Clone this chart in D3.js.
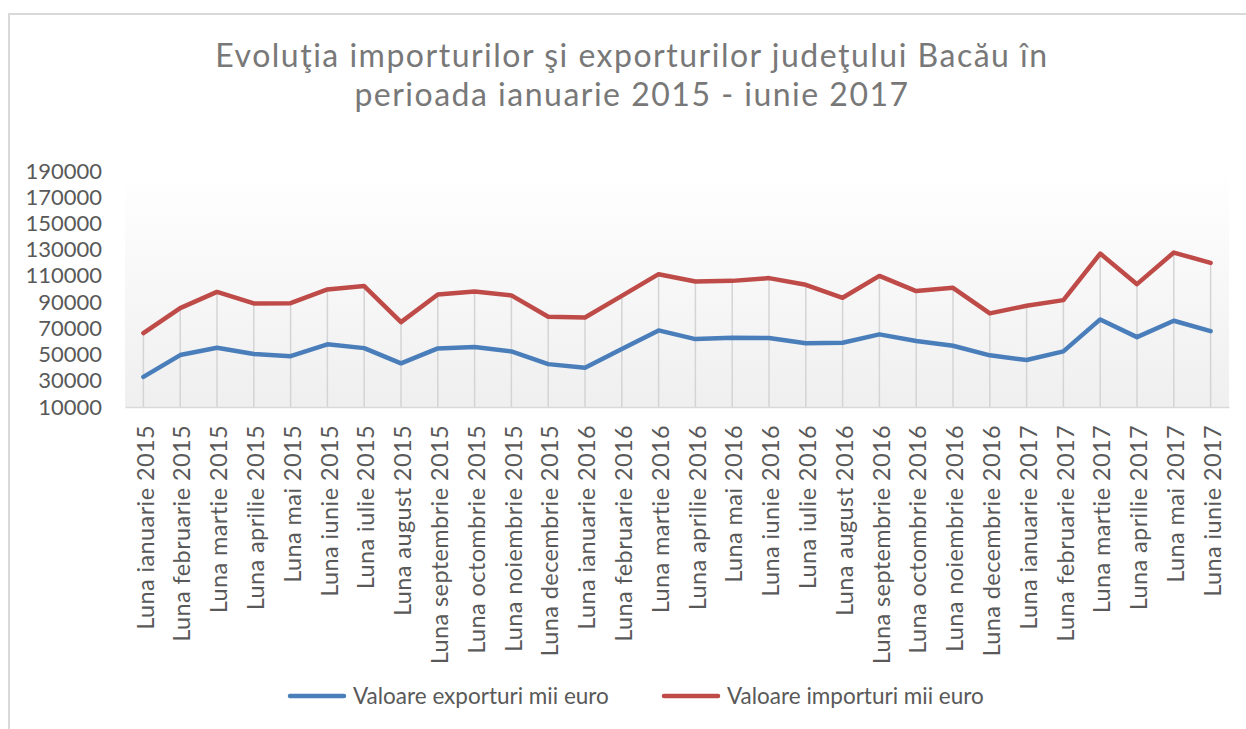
<!DOCTYPE html>
<html>
<head>
<meta charset="utf-8">
<script src="https://cdn.jsdelivr.net/npm/d3@7"></script>
<style>
  html, body { margin: 0; padding: 0; background: #fff; }
  svg { display: block; font-family: Lato, "Open Sans", sans-serif; }
</style>
</head>
<body>
<div id="chart"></div>
<script>
const titleLines = ["Evoluţia importurilor şi exporturilor judeţului Bacău în", "perioada ianuarie 2015 - iunie 2017"];

const months = [
  "Luna ianuarie 2015", "Luna februarie 2015", "Luna martie 2015", "Luna aprilie 2015",
  "Luna mai 2015", "Luna iunie 2015", "Luna iulie 2015", "Luna august 2015",
  "Luna septembrie 2015", "Luna octombrie 2015", "Luna noiembrie 2015", "Luna decembrie 2015",
  "Luna ianuarie 2016", "Luna februarie 2016", "Luna martie 2016", "Luna aprilie 2016",
  "Luna mai 2016", "Luna iunie 2016", "Luna iulie 2016", "Luna august 2016",
  "Luna septembrie 2016", "Luna octombrie 2016", "Luna noiembrie 2016", "Luna decembrie 2016",
  "Luna ianuarie 2017", "Luna februarie 2017", "Luna martie 2017", "Luna aprilie 2017",
  "Luna mai 2017", "Luna iunie 2017"
];

const exportValues = [
  33000, 49600, 55200, 50400, 48800, 57800, 54900, 43300, 54700, 55700, 52400, 42700,
  40000, 54200, 68400, 61800, 62800, 62600, 58700, 59000, 65400, 60300, 56700, 49400,
  45800, 52400, 76800, 63300, 75800, 67900
];

const importValues = [
  66400, 85400, 97800, 89000, 89200, 99700, 102200, 74700, 95800, 98100, 95100, 78800,
  78300, 94800, 111300, 105700, 106200, 108300, 103200, 93300, 110000, 98400, 100900, 81400,
  87200, 91500, 127000, 103700, 127800, 119900
];

const yTicks = [10000, 30000, 50000, 70000, 90000, 110000, 130000, 150000, 170000, 190000];

const seriesNames = ["Valoare exporturi mii euro", "Valoare importuri mii euro"];
const seriesColors = ["#4a7ebb", "#be4b48"];

const width = 1246, height = 729;
const plot = { left: 125, right: 1229, top: 171, bottom: 407 };
const textColor = "#595959";

const svg = d3.select("#chart").append("svg")
  .attr("width", width)
  .attr("height", height);

// chart border
svg.append("rect")
  .attr("x", 9).attr("y", 14)
  .attr("width", width + 20).attr("height", height + 20)
  .attr("fill", "#fff")
  .attr("stroke", "#d9d9d9")
  .attr("stroke-width", 2);

const x = d3.scalePoint()
  .domain(months)
  .range([plot.left, plot.right])
  .padding(0.5);

const y = d3.scaleLinear()
  .domain([yTicks[0], yTicks[yTicks.length - 1]])
  .range([plot.bottom, plot.top]);

// plot area gradient
const defs = svg.append("defs");
const grad = defs.append("linearGradient")
  .attr("id", "plot-bg")
  .attr("x1", "0%").attr("y1", "0%")
  .attr("x2", "0%").attr("y2", "100%");
grad.append("stop").attr("offset", "0%").attr("stop-color", "#ffffff");
grad.append("stop").attr("offset", "100%").attr("stop-color", "#efefef");

svg.append("rect")
  .attr("x", plot.left).attr("y", plot.top)
  .attr("width", plot.right - plot.left)
  .attr("height", plot.bottom - plot.top)
  .attr("fill", "url(#plot-bg)");

// Title
svg.append("g")
  .selectAll("text")
  .data(titleLines)
  .join("text")
  .attr("x", 632)
  .attr("y", (d, i) => 67 + i * 39)
  .attr("text-anchor", "middle")
  .attr("font-size", 32)
  .attr("letter-spacing", "1.5px")
  .attr("fill", "#787878")
  .text(d => d);

// Drop lines
const rows = months.map((m, i) => ({ month: m, exp: exportValues[i], imp: importValues[i] }));

svg.append("g")
  .selectAll("line")
  .data(rows)
  .join("line")
  .attr("x1", d => x(d.month))
  .attr("x2", d => x(d.month))
  .attr("y1", d => y(Math.max(d.exp, d.imp)))
  .attr("y2", y(yTicks[0]))
  .attr("stroke", "#d4d4d4")
  .attr("stroke-width", 1.5);

// Axes
const xAxis = svg.append("g")
  .attr("transform", `translate(0,${plot.bottom})`)
  .call(d3.axisBottom(x).tickSize(0).tickPadding(0));
xAxis.select(".domain").attr("stroke", "#d9d9d9").attr("stroke-width", 1.5);
xAxis.selectAll("text")
  .attr("transform", "translate(1.5,18) rotate(-90)")
  .attr("text-anchor", "end")
  .attr("dy", "0.35em")
  .attr("x", 0).attr("y", 0)
  .attr("font-size", 23.5)
  .attr("letter-spacing", "0.4px")
  .attr("font-family", "Lato, sans-serif")
  .attr("fill", textColor);

const yAxis = svg.append("g")
  .attr("transform", "translate(102,0)")
  .call(d3.axisLeft(y).tickValues(yTicks).tickFormat(d3.format("d")).tickSize(0).tickPadding(0));
yAxis.select(".domain").remove();
yAxis.selectAll("text")
  .attr("font-size", 22)
  .attr("font-family", "Lato, sans-serif")
  .attr("fill", textColor);

// Lines
const line = d3.line()
  .x((d, i) => x(months[i]))
  .y(d => y(d));

[exportValues, importValues].forEach((vals, k) => {
  svg.append("path")
    .datum(vals)
    .attr("fill", "none")
    .attr("stroke", seriesColors[k])
    .attr("stroke-width", 4.5)
    .attr("stroke-linejoin", "round")
    .attr("stroke-linecap", "round")
    .attr("d", line);
});

// Legend
const legendX = [290, 664];
const legend = svg.append("g")
  .selectAll("g")
  .data(seriesNames)
  .join("g")
  .attr("transform", (d, i) => `translate(${legendX[i]},696)`);

legend.append("line")
  .attr("x1", 0).attr("x2", 54)
  .attr("stroke", (d, i) => seriesColors[i])
  .attr("stroke-width", 4.5)
  .attr("stroke-linecap", "round");

legend.append("text")
  .attr("x", 63)
  .attr("dy", "0.35em")
  .attr("font-size", 22.5)
  .attr("fill", textColor)
  .text(d => d);
</script>
</body>
</html>
